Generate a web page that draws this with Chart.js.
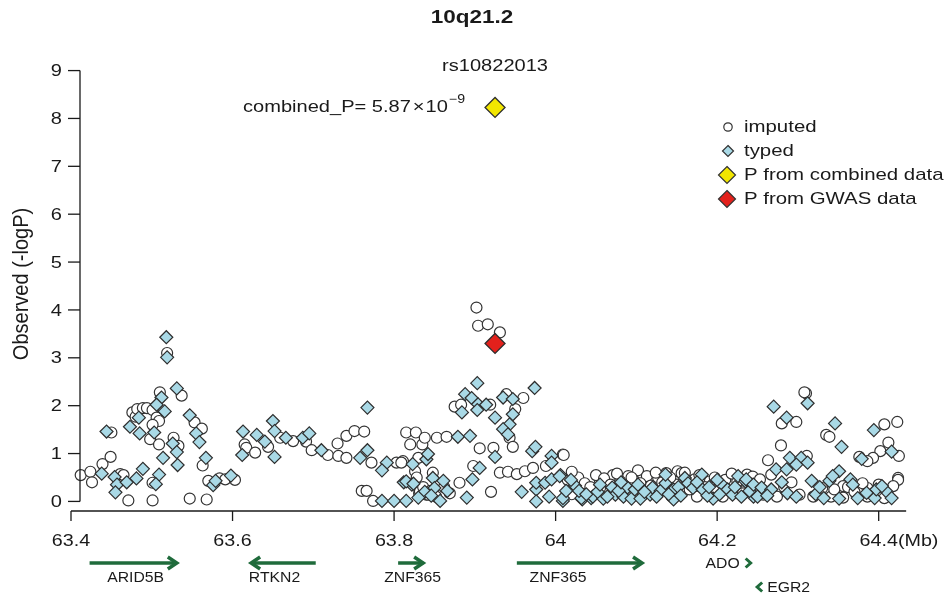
<!DOCTYPE html>
<html><head><meta charset="utf-8">
<script src="https://cdn.jsdelivr.net/npm/chart.js@4.4.1/dist/chart.umd.min.js"></script>
<style>html,body{margin:0;padding:0;background:#fff}canvas{display:block}</style>
</head><body>
<canvas id="c" width="945" height="598"></canvas>
<script>
// ---------------- data ----------------
const chartTitle = '10q21.2';
const leadSnp = 'rs10822013';
const xTicks = [63.4, 63.6, 63.8, 64.0, 64.2, 64.4];
const xTickLabels = ['63.4', '63.6', '63.8', '64', '64.2', '64.4'];
const xUnit = '(Mb)';
const yTicks = [0, 1, 2, 3, 4, 5, 6, 7, 8, 9];
const yTickLabels = ['0', '1', '2', '3', '4', '5', '6', '7', '8', '9'];
const yTitle = 'Observed (-logP)';
const legendLabels = ['imputed', 'typed', 'P from combined data', 'P from GWAS data'];

const imputedPoints = [
 [63.412,0.55],[63.424,0.62],[63.426,0.40],[63.439,0.78],[63.449,0.93],[63.450,1.44],[63.461,0.57],[63.465,0.55],
 [63.471,0.02],[63.476,1.86],[63.480,1.77],[63.482,1.93],[63.489,1.95],[63.494,1.95],[63.501,1.91],[63.506,1.75],
 [63.509,1.68],[63.501,1.60],[63.498,1.30],[63.509,1.19],[63.510,2.28],[63.519,3.10],[63.527,1.33],[63.533,1.16],
 [63.537,2.21],[63.501,0.39],[63.501,0.02],[63.547,0.06],[63.568,0.04],[63.553,1.65],[63.562,1.52],[63.563,0.75],
 [63.570,0.43],[63.584,0.48],[63.591,0.46],[63.603,0.45],[63.615,1.19],[63.617,1.12],[63.628,1.02],[63.644,1.14],
 [63.659,1.33],[63.675,1.26],[63.691,1.25],[63.698,1.07],[63.718,0.97],[63.730,1.21],[63.731,0.95],[63.741,0.91],
 [63.741,1.37],[63.751,1.47],[63.763,1.46],[63.760,0.22],[63.766,0.22],[63.774,0.01],[63.772,0.81],[63.803,0.81],
 [63.811,0.84],[63.815,1.44],[63.827,1.44],[63.820,1.19],[63.835,1.19],[63.826,0.63],[63.831,0.17],[63.840,0.14],
 [63.902,4.05],[63.904,3.67],[63.916,3.70],[63.931,3.53],[63.838,1.33],[63.853,1.33],[63.865,1.35],[63.875,1.98],
 [63.883,2.02],[63.919,2.02],[63.939,2.24],[63.960,2.16],[63.950,1.93],[63.943,1.33],[63.906,1.11],[63.923,1.12],
 [63.947,1.14],[63.898,0.74],[63.881,0.39],[63.848,0.60],[63.869,0.17],[63.931,0.60],[63.941,0.62],[63.952,0.57],
 [63.962,0.63],[63.972,0.70],[64.009,0.98],[63.988,0.74],[63.830,0.91],[63.809,0.81],[63.832,0.21],[63.842,0.14],
 [63.920,0.20],[64.010,0.97],[63.836,0.30],[63.845,0.22],[63.852,0.10],[63.862,0.30],[63.828,0.50],
 [64.102,0.65],[64.090,0.53],[64.071,0.55],[64.055,0.42],[64.080,0.42],[64.098,0.42],[64.113,0.53],[64.127,0.49],
 [64.137,0.59],[64.151,0.63],[64.156,0.59],[64.172,0.46],[64.191,0.42],[64.200,0.21],[64.207,0.10],[64.225,0.42],
 [64.237,0.56],[64.250,0.42],[64.039,0.21],[64.064,0.21],[64.055,0.28],[64.108,0.14],[64.150,0.35],[64.175,0.10],
 [64.232,0.21],[64.015,0.45],[64.020,0.15],[64.028,0.50],[64.036,0.38],[64.043,0.30],[64.050,0.55],[64.060,0.48],
 [64.068,0.35],[64.076,0.58],[64.085,0.30],[64.094,0.50],[64.105,0.38],[64.118,0.33],[64.124,0.60],[64.132,0.40],
 [64.142,0.50],[64.160,0.60],[64.166,0.25],[64.178,0.55],[64.185,0.30],[64.197,0.50],[64.210,0.45],[64.218,0.58],
 [64.244,0.52],[64.143,0.12],[64.092,0.15],[64.020,0.62],
 [64.310,2.26],[64.308,2.28],[64.280,1.63],[64.298,1.66],[64.279,1.17],[64.335,1.39],[64.339,1.35],[64.407,1.61],
 [64.423,1.66],[64.412,1.23],[64.402,1.05],[64.376,0.93],[64.393,0.91],[64.425,0.95],[64.424,0.49],[64.424,0.45],
 [64.263,0.86],[64.267,0.56],[64.311,0.95],[64.386,0.84],[64.232,0.17],[64.257,0.14],[64.274,0.10],[64.302,0.14],
 [64.319,0.10],[64.341,0.10],[64.356,0.08],[64.386,0.10],[64.407,0.07],[64.253,0.46],[64.330,0.28],[64.356,0.32],
 [64.386,0.28],[64.362,0.30],[64.370,0.20],[64.380,0.38],[64.400,0.35],[64.418,0.32],[64.345,0.25],[64.283,0.30],
 [64.292,0.40]
];

const typedPoints = [
 [63.518,3.43],[63.519,3.01],[63.531,2.36],[63.512,2.17],[63.506,2.02],[63.516,1.88],[63.444,1.46],[63.473,1.56],
 [63.484,1.75],[63.485,1.42],[63.503,1.44],[63.526,1.21],[63.531,1.03],[63.514,0.91],[63.532,0.76],[63.547,1.80],
 [63.555,1.42],[63.559,1.24],[63.567,0.91],[63.438,0.58],[63.454,0.51],[63.457,0.35],[63.455,0.19],[63.469,0.40],
 [63.481,0.48],[63.489,0.68],[63.509,0.56],[63.505,0.36],[63.576,0.34],[63.579,0.43],[63.598,0.54],[63.613,1.46],
 [63.630,1.39],[63.612,0.97],
 [63.650,1.68],[63.652,1.47],[63.640,1.25],[63.652,0.93],[63.666,1.33],[63.687,1.33],[63.695,1.42],[63.710,1.07],
 [63.767,1.96],[63.767,1.07],[63.758,0.91],[63.791,0.81],[63.785,0.65],[63.823,0.78],[63.812,0.40],[63.822,0.35],
 [63.785,0.01],[63.800,0.01],[63.815,0.01],[63.840,0.88],
 [63.903,2.47],[63.888,2.24],[63.896,2.16],[63.884,1.86],[63.904,2.03],[63.903,1.91],[63.914,2.02],[63.935,2.17],
 [63.947,2.14],[63.947,1.82],[63.925,1.75],[63.974,2.37],[63.943,1.61],[63.935,1.51],[63.941,1.40],[63.879,1.35],
 [63.894,1.37],[63.842,0.99],[63.925,0.93],[63.906,0.70],[63.897,0.46],[63.848,0.49],[63.861,0.43],[63.850,0.28],
 [63.815,0.42],[63.824,0.37],[63.857,0.01],[63.971,1.05],[63.975,1.14],[63.995,0.95],[63.995,0.81],[63.958,0.20],
 [63.976,0.25],[63.976,0.39],[63.987,0.39],[63.995,0.46],[64.006,0.55],[63.976,0.00],[63.992,0.10],[64.009,0.01],
 [64.033,0.04],[64.044,0.07],[63.890,0.08],[63.838,0.20],[63.846,0.12],[63.866,0.22],[63.830,0.08],
 [64.005,0.53],[64.024,0.33],[64.009,0.07],[64.032,0.07],[64.046,0.10],[64.059,0.06],[64.070,0.29],[64.074,0.14],
 [64.084,0.10],[64.089,0.29],[64.094,0.06],[64.105,0.06],[64.117,0.14],[64.120,0.29],[64.130,0.22],[64.136,0.38],
 [64.136,0.56],[64.146,0.04],[64.146,0.25],[64.160,0.49],[64.164,0.38],[64.170,0.28],[64.181,0.56],[64.182,0.25],
 [64.195,0.06],[64.206,0.35],[64.213,0.25],[64.226,0.53],[64.235,0.42],[64.243,0.35],[64.245,0.10],[64.219,0.14],
 [64.013,0.22],[64.019,0.45],[64.029,0.22],[64.038,0.15],[64.052,0.20],[64.055,0.35],[64.064,0.10],[64.078,0.22],
 [64.081,0.40],[64.098,0.25],[64.102,0.35],[64.110,0.20],[64.125,0.10],[64.140,0.15],[64.152,0.30],[64.155,0.12],
 [64.175,0.40],[64.188,0.12],[64.190,0.30],[64.200,0.45],[64.203,0.15],[64.222,0.30],[64.230,0.10],[64.240,0.22],
 [64.270,1.98],[64.312,2.05],[64.286,1.75],[64.346,1.63],[64.354,1.14],[64.394,1.49],[64.416,1.04],[64.379,0.89],
 [64.290,0.91],[64.304,0.91],[64.273,0.67],[64.286,0.67],[64.298,0.77],[64.312,0.81],[64.317,0.43],[64.339,0.43],
 [64.351,0.63],[64.365,0.46],[64.236,0.46],[64.245,0.35],[64.255,0.29],[64.250,0.10],[64.267,0.25],[64.287,0.17],
 [64.298,0.10],[64.322,0.15],[64.332,0.07],[64.351,0.06],[64.374,0.07],[64.395,0.07],[64.397,0.25],[64.410,0.20],
 [64.416,0.07],[64.343,0.53],[64.368,0.35],[64.385,0.18],[64.404,0.32],[64.327,0.30],[64.280,0.40],[64.262,0.12]
];

const combinedPoint = [[63.925, 8.23]];
const gwasPoint = [[63.925, 3.30]];
const combinedP = { mantissa: '5.87', exponent: '\u22129' };

const geneNames  = ['ARID5B', 'RTKN2', 'ZNF365', 'ZNF365', 'ADO', 'EGR2'];
const geneStart  = [63.423, 63.623, 63.805, 63.952, 64.239, 64.252];
const geneEnd    = [63.531, 63.703, 63.836, 64.107, 64.239, 64.252];
const geneStrand = ['+', '-', '+', '+', '+', '-'];

// ---------------- layout / style ----------------
const X_MIN = 63.4, X_MAX = 64.44, X_AXIS_END = 64.434;
const Y_MIN = -0.2, Y_MAX = 9.2;
const FONT = '"Liberation Sans", Arial, Helvetica, sans-serif';
const INK = '#1a1a1a';
const GENE_GREEN = '#1f6b3b';
const geneLabelLayout = [
  {mb: 63.480, row: 0, align: 'center'},
  {mb: 63.652, row: 0, align: 'center'},
  {mb: 63.823, row: 0, align: 'center'},
  {mb: 64.003, row: 0, align: 'center'},
  {dx: -9, row: 0, align: 'right', beside: true},
  {dx: 8, row: 1, align: 'left', beside: true}
];

function txt(ctx, s, x, y, o) {
  o = o || {};
  ctx.save();
  ctx.translate(x, y);
  if (o.rot) ctx.rotate(o.rot);
  ctx.scale(o.sx || 1, o.sy || 1);
  ctx.font = (o.bold ? 'bold ' : '') + (o.size || 17) + 'px ' + FONT;
  ctx.textAlign = o.align || 'center';
  ctx.textBaseline = o.base || 'middle';
  ctx.fillStyle = o.color || INK;
  ctx.fillText(s, 0, 0);
  const w = ctx.measureText(s).width * (o.sx || 1);
  ctx.restore();
  return w;
}
function seg(ctx, x1, y1, x2, y2) { ctx.beginPath(); ctx.moveTo(x1, y1); ctx.lineTo(x2, y2); ctx.stroke(); }
function diamond(ctx, x, y, r, fill) {
  ctx.beginPath(); ctx.moveTo(x, y - r); ctx.lineTo(x + r, y); ctx.lineTo(x, y + r); ctx.lineTo(x - r, y); ctx.closePath();
  ctx.fillStyle = fill; ctx.fill(); ctx.strokeStyle = '#333'; ctx.lineWidth = 1.2; ctx.stroke();
}

const decor = {
  id: 'decor',
  afterDraw(chart) {
    const ctx = chart.ctx, xs = chart.scales.x, ys = chart.scales.y, ca = chart.chartArea;
    ctx.save();
    ctx.strokeStyle = INK; ctx.lineWidth = 1.3; ctx.lineCap = 'butt';

    // y axis (R style, offset)
    const yAx = xs.getPixelForValue(X_MIN) + 9;
    seg(ctx, yAx, ys.getPixelForValue(yTicks[0]), yAx, ys.getPixelForValue(yTicks[yTicks.length - 1]));
    yTicks.forEach((v, i) => {
      const p = ys.getPixelForValue(v);
      seg(ctx, yAx - 12, p, yAx, p);
      txt(ctx, yTickLabels[i], yAx - 18, p + 1, {align: 'right', sx: 1.18});
    });
    // y title
    txt(ctx, yTitle, 22, ys.getPixelForValue(4.5) - 2, {rot: -Math.PI / 2, size: 20, sy: 1.12});

    // x axis
    const xb = ca.bottom;
    seg(ctx, xs.getPixelForValue(xTicks[0]), xb, xs.getPixelForValue(X_AXIS_END), xb);
    xTicks.forEach((v, i) => {
      const p = xs.getPixelForValue(v);
      seg(ctx, p, xb, p, xb + 10);
      const w = txt(ctx, xTickLabels[i], p, xb + 30, {sx: 1.16});
      if (i === xTicks.length - 1) txt(ctx, xUnit, p + w / 2, xb + 30, {align: 'left', sx: 1.16});
    });

    // title & annotations
    txt(ctx, chartTitle, 472, 18, {bold: true, size: 18, sx: 1.25});
    const cx = xs.getPixelForValue(combinedPoint[0][0]);
    txt(ctx, leadSnp, cx, 66, {sx: 1.18});
    const cy = ys.getPixelForValue(combinedPoint[0][1]);
    let x0 = 243;
    x0 += txt(ctx, 'combined_P= ' + combinedP.mantissa, x0, cy, {align: 'left', sx: 1.18});
    x0 += txt(ctx, '\u00d7', x0 + 2, cy, {align: 'left', sx: 1.18}) + 3;
    x0 += txt(ctx, '10', x0, cy, {align: 'left', sx: 1.18});
    txt(ctx, combinedP.exponent, x0 + 1, cy - 8, {align: 'left', size: 12, sx: 1.18});

    // legend
    const lx = 728, ly = [127, 151, 175, 199];
    ctx.beginPath(); ctx.arc(lx, ly[0], 4.2, 0, Math.PI * 2); ctx.fillStyle = '#fff'; ctx.fill();
    ctx.strokeStyle = '#333'; ctx.lineWidth = 1.2; ctx.stroke();
    diamond(ctx, lx, ly[1], 5.5, '#a9d9e6');
    diamond(ctx, lx - 1, ly[2], 8.5, '#f2e600');
    diamond(ctx, lx - 1, ly[3], 8.5, '#e3211c');
    legendLabels.forEach((s, i) => txt(ctx, s, 744, ly[i], {align: 'left', sx: 1.2}));

    // gene track
    const rowY = [xb + 52, xb + 76];
    ctx.strokeStyle = GENE_GREEN; ctx.fillStyle = GENE_GREEN; ctx.lineWidth = 3.5; ctx.lineJoin = 'miter';
    geneNames.forEach((g, i) => {
      const L = geneLabelLayout[i];
      const y = rowY[L.row];
      const a = xs.getPixelForValue(geneStart[i]), b = xs.getPixelForValue(geneEnd[i]);
      const dir = geneStrand[i] === '+' ? 1 : -1;
      if (Math.abs(b - a) > 2) {
        ctx.lineWidth = 3.5;
        seg(ctx, a, y, b, y);
        const tip = dir > 0 ? Math.max(a, b) : Math.min(a, b);
        ctx.beginPath(); ctx.moveTo(tip - dir * 9, y - 6); ctx.lineTo(tip, y); ctx.lineTo(tip - dir * 9, y + 6); ctx.stroke();
        txt(ctx, g, xs.getPixelForValue(L.mb), y + 15, {size: 15, sx: 1.05, color: INK});
      } else {
        ctx.lineWidth = 3;
        ctx.beginPath(); ctx.moveTo(a - dir * 3, y - 4.5); ctx.lineTo(a + dir * 2, y); ctx.lineTo(a - dir * 3, y + 4.5); ctx.stroke();
        txt(ctx, g, a + L.dx, y + 1, {size: 15, sx: 1.05, align: L.align, color: INK});
      }
    });
    ctx.restore();
  }
};

const toXY = arr => arr.map(p => ({x: p[0], y: p[1]}));

new Chart(document.getElementById('c'), {
  type: 'scatter',
  data: {
    datasets: [
      {label: legendLabels[0], data: toXY(imputedPoints), order: 4, pointStyle: 'circle', radius: 5.5,
       backgroundColor: '#ffffff', borderColor: '#333333', borderWidth: 1.2},
      {label: legendLabels[1], data: toXY(typedPoints), order: 3, pointStyle: 'rectRot', radius: 6.5,
       backgroundColor: '#a9d9e6', borderColor: '#2e2e2e', borderWidth: 1.2},
      {label: legendLabels[3], data: toXY(gwasPoint), order: 2, pointStyle: 'rectRot', radius: 10,
       backgroundColor: '#e3211c', borderColor: '#2e2e2e', borderWidth: 1.3},
      {label: legendLabels[2], data: toXY(combinedPoint), order: 1, pointStyle: 'rectRot', radius: 10,
       backgroundColor: '#f2e600', borderColor: '#2e2e2e', borderWidth: 1.3}
    ]
  },
  options: {
    responsive: false, animation: false, devicePixelRatio: 1,
    layout: {padding: {left: 71, right: 34, top: 61, bottom: 87}},
    clip: false,
    scales: {
      x: {type: 'linear', min: X_MIN, max: X_MAX, display: false},
      y: {type: 'linear', min: Y_MIN, max: Y_MAX, display: false}
    },
    plugins: {legend: {display: false}, tooltip: {enabled: false}},
    events: []
  },
  plugins: [decor]
});
</script>
</body></html>
